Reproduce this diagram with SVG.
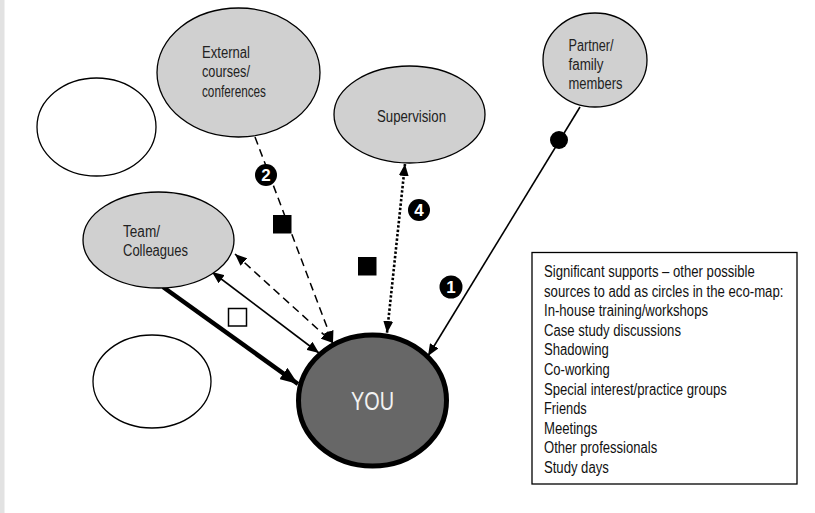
<svg xmlns="http://www.w3.org/2000/svg" width="815" height="513" viewBox="0 0 815 513">
  <style>
    .bubble { fill: #d0d0d0; stroke: #000; stroke-width: 1.3; }
    .blank { fill: #fff; stroke: #000; stroke-width: 1.3; }
    .lbl { font-family: "Liberation Sans", Arial, sans-serif; font-size: 16px; fill: #222; }
    .key { font-family: "Liberation Sans", Arial, sans-serif; font-size: 16px; fill: #111; }
    .num { font-family: "Liberation Sans", Arial, sans-serif; font-size: 17px; font-weight: bold; fill: #fff; text-anchor: middle; }
    .solid { fill: none; stroke: #000; stroke-width: 1.6; }
    .dash { fill: none; stroke: #000; stroke-width: 1.5; stroke-dasharray: 8 5; }
    .dot { fill: none; stroke: #000; stroke-width: 2.6; stroke-dasharray: 2.4 2; }
    .thick { fill: none; stroke: #000; stroke-width: 4.5; }
  </style>
  <defs>
    <marker id="tip" markerUnits="userSpaceOnUse" viewBox="0 0 12 10" refX="12" refY="5" markerWidth="12" markerHeight="10" orient="auto-start-reverse">
      <path d="M0,0 L12,5 L0,10 Z" fill="#000"/>
    </marker>
    <marker id="tipBig" markerUnits="userSpaceOnUse" viewBox="0 0 18 14" refX="18" refY="7" markerWidth="18" markerHeight="14" orient="auto">
      <path d="M0,0 L18,7 L0,14 Z" fill="#000"/>
    </marker>
  </defs>

  <rect width="815" height="513" fill="#fff"/>
  <rect x="0" y="0" width="4.5" height="513" fill="#e2e2e2"/>

  <!-- links between the circles -->
  <g id="connectors">
    <line class="solid" x1="580" y1="107" x2="428" y2="356" marker-end="url(#tip)"/>
    <circle cx="559" cy="140" r="9" fill="#000"/>
    <line class="dash" x1="255" y1="137" x2="333" y2="343" marker-end="url(#tip)"/>
    <rect x="273" y="215" width="18.5" height="18.5" fill="#000"/>
    <line class="dot" x1="405" y1="164" x2="387" y2="333" marker-start="url(#tip)" marker-end="url(#tip)"/>
    <rect x="358" y="257" width="18.5" height="18.5" fill="#000"/>
    <line class="dash" x1="235" y1="254" x2="333" y2="343" marker-start="url(#tip)" marker-end="url(#tip)"/>
    <line class="solid" x1="212" y1="272" x2="319" y2="353" marker-start="url(#tip)" marker-end="url(#tip)"/>
    <line class="thick" x1="163" y1="287" x2="298" y2="384" marker-end="url(#tipBig)"/>
    <rect x="228.5" y="308.5" width="18" height="17.5" fill="#fff" stroke="#000" stroke-width="1.5"/>
    <g id="markers">
      <circle cx="266" cy="175" r="11" fill="#000"/>
      <text class="num" x="266" y="181">2</text>
      <circle cx="419" cy="210" r="11" fill="#000"/>
      <text class="num" x="419" y="216">4</text>
      <circle cx="451" cy="287" r="11.5" fill="#000"/>
      <text class="num" x="451" y="293">1</text>
    </g>
  </g>

  <g id="blank-top">
    <ellipse class="blank" cx="96.5" cy="127" rx="59.5" ry="49"/>
  </g>
  <g id="blank-bottom">
    <ellipse class="blank" cx="152" cy="381.5" rx="59" ry="46.5"/>
  </g>

  <g id="external">
    <ellipse class="bubble" cx="238.5" cy="72.5" rx="81.5" ry="64.5"/>
    <text class="lbl" x="202" y="58" textLength="48" lengthAdjust="spacingAndGlyphs">External</text>
    <text class="lbl" x="202" y="77" textLength="48" lengthAdjust="spacingAndGlyphs">courses/</text>
    <text class="lbl" x="202" y="97" textLength="64" lengthAdjust="spacingAndGlyphs">conferences</text>
  </g>

  <g id="supervision">
    <ellipse class="bubble" cx="409.5" cy="114.5" rx="75.5" ry="48.5"/>
    <text class="lbl" x="377" y="122" textLength="69" lengthAdjust="spacingAndGlyphs">Supervision</text>
  </g>

  <g id="partner">
    <ellipse class="bubble" cx="595" cy="60" rx="52" ry="47"/>
    <text class="lbl" x="568.5" y="51" textLength="45" lengthAdjust="spacingAndGlyphs">Partner/</text>
    <text class="lbl" x="568.5" y="70" textLength="35" lengthAdjust="spacingAndGlyphs">family</text>
    <text class="lbl" x="568.5" y="89" textLength="54" lengthAdjust="spacingAndGlyphs">members</text>
  </g>

  <g id="team">
    <ellipse class="bubble" cx="158.5" cy="240" rx="75.5" ry="48"/>
    <text class="lbl" x="123" y="237" textLength="37" lengthAdjust="spacingAndGlyphs">Team/</text>
    <text class="lbl" x="123" y="256" textLength="65" lengthAdjust="spacingAndGlyphs">Colleagues</text>
  </g>

  <g id="you">
    <ellipse cx="372.5" cy="400.5" rx="74" ry="65.5" fill="#676767" stroke="#000" stroke-width="5"/>
    <text x="372.5" y="410" text-anchor="middle" font-family="Liberation Sans, Arial, sans-serif" font-size="25" fill="#f2f2f2" textLength="43" lengthAdjust="spacingAndGlyphs">YOU</text>
  </g>

  <g id="supports-box">
    <rect x="532" y="252.5" width="265" height="231.5" fill="#fff" stroke="#000" stroke-width="1.3"/>
    <!-- condensed list: horizontal squeeze applied to the whole block -->
    <g transform="translate(544,0) scale(0.82,1)">
      <text class="key" x="0" y="277" textLength="257" lengthAdjust="spacingAndGlyphs">Significant supports – other possible</text>
      <text class="key" x="0" y="296.6" textLength="292" lengthAdjust="spacingAndGlyphs">sources to add as circles in the eco-map:</text>
      <text class="key" x="0" y="316.2" textLength="200" lengthAdjust="spacingAndGlyphs">In-house training/workshops</text>
      <text class="key" x="0" y="335.8" textLength="167" lengthAdjust="spacingAndGlyphs">Case study discussions</text>
      <text class="key" x="0" y="355.4" textLength="79" lengthAdjust="spacingAndGlyphs">Shadowing</text>
      <text class="key" x="0" y="375" textLength="80" lengthAdjust="spacingAndGlyphs">Co-working</text>
      <text class="key" x="0" y="394.6" textLength="223" lengthAdjust="spacingAndGlyphs">Special interest/practice groups</text>
      <text class="key" x="0" y="414.2" textLength="52" lengthAdjust="spacingAndGlyphs">Friends</text>
      <text class="key" x="0" y="433.8" textLength="65" lengthAdjust="spacingAndGlyphs">Meetings</text>
      <text class="key" x="0" y="453.4" textLength="138" lengthAdjust="spacingAndGlyphs">Other professionals</text>
      <text class="key" x="0" y="473" textLength="79" lengthAdjust="spacingAndGlyphs">Study days</text>
    </g>
  </g>
</svg>
